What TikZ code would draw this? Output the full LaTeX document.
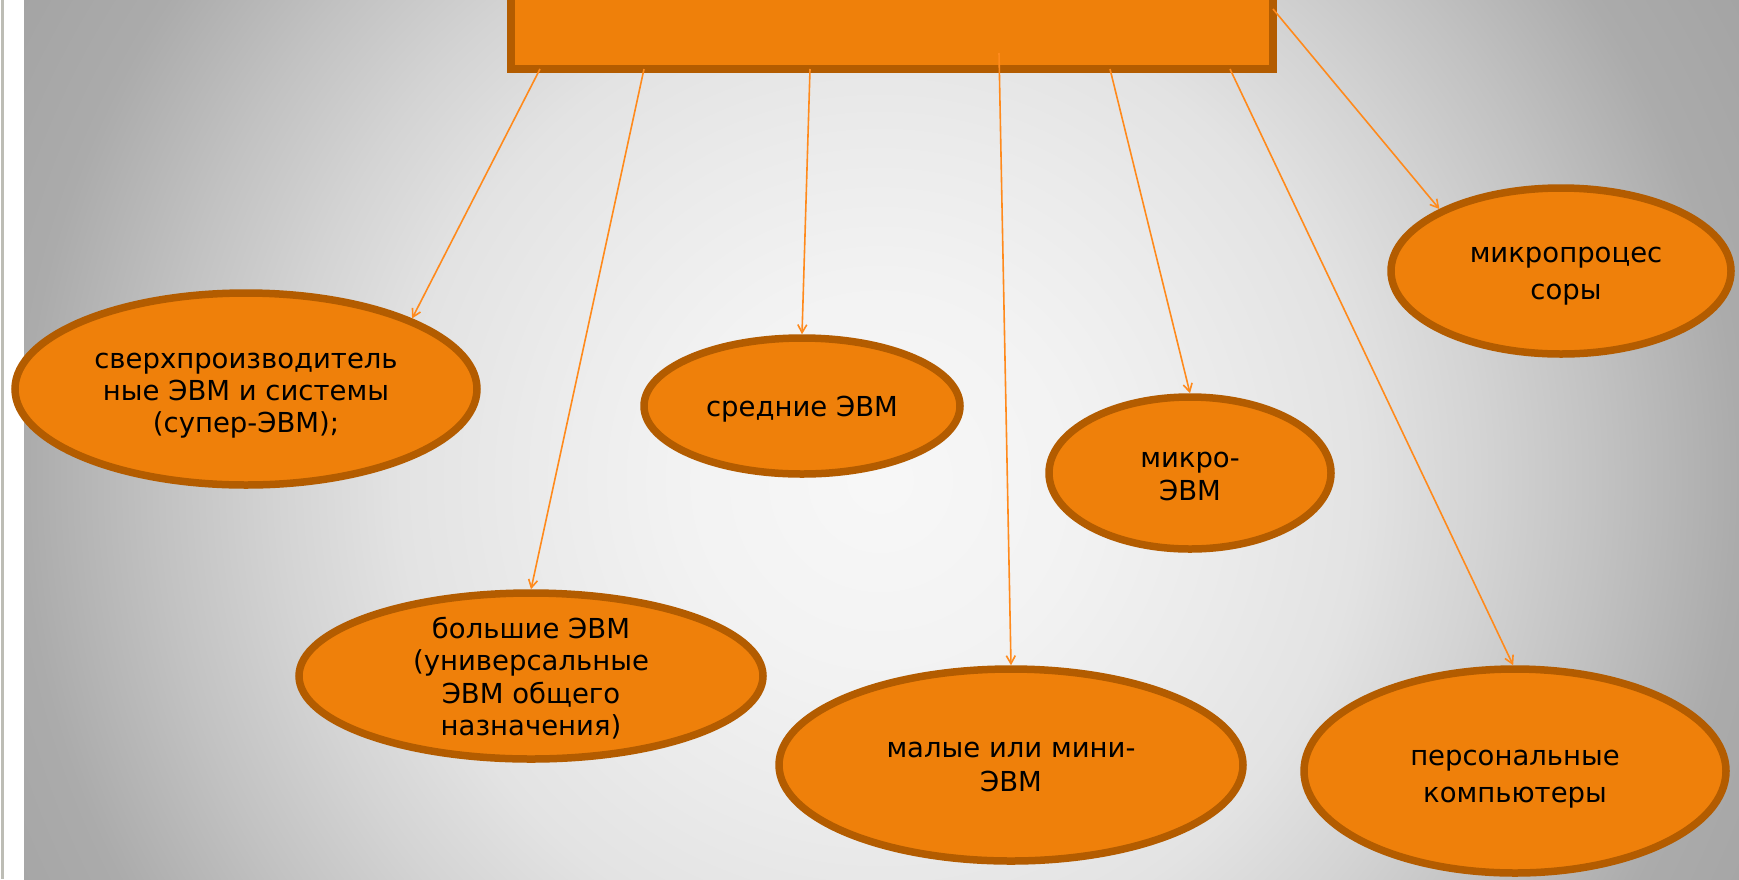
\documentclass[tikz,border=0pt]{standalone}
\usepackage{fontspec}
\setmainfont{DejaVu Sans}
\usetikzlibrary{shapes.geometric,arrows.meta}
\definecolor{bubble}{HTML}{EF800A}
\definecolor{rim}{HTML}{B35C00}
\definecolor{wire}{HTML}{FF8A1C}
\definecolor{strip}{HTML}{BDBDB5}
\pgfdeclareradialshading{bgshade}{\pgfpoint{0bp}{0bp}}{color(0bp)=(black!3); color(5bp)=(black!5); color(8.75bp)=(black!8); color(12bp)=(black!11); color(15bp)=(black!17); color(18bp)=(black!24); color(21.5bp)=(black!33); color(25bp)=(black!36); color(50bp)=(black!36)}
\tikzset{
  bub/.style={ellipse, draw=rim, fill=bubble, line width=7.5pt, inner sep=0pt},
  bubtext/.style={align=center, font=\fontsize{27.5}{#1}\selectfont, text=black, inner sep=0pt},
  bubtext/.default=32,
  headbox/.style={rectangle, draw=rim, fill=bubble, line width=8pt, inner sep=0pt},
  conn/.style={draw=wire, line width=1.6pt, -{Straight Barb[length=8pt,width=9pt]}},
}
\begin{document}
\begin{tikzpicture}[x=1pt,y=-1pt]
\path[use as bounding box] (0,0) rectangle (1739,879);
\begin{scope}
\clip (0,0) rectangle (1739,879);
\fill[white] (0,0) rectangle (24,879);
\draw[strip, line width=3pt] (2,0) -- (2,879);
\begin{scope}
\clip (24,0) rectangle (1739,879);
\shade[shading=bgshade] (880,480) circle[radius=1000];
\end{scope}

% header box
\node[headbox, minimum width=762pt, minimum height=110pt] (top) at (892,14) {};

% ellipses
\node[bub, minimum width=462pt, minimum height=192pt] (e1) at (246,389) {};
\node[bubtext] (t1) at (246,396) {сверхпроизводитель\\ные ЭВМ и системы\\(супер-ЭВМ);};
\node[bub, minimum width=464pt, minimum height=166pt] (e2) at (531,676) {};
\node[bubtext=32.5] (t2) at (531,678) {большие ЭВМ\\(универсальные\\ЭВМ общего\\назначения)};
\node[bub, minimum width=316pt, minimum height=136pt] (e3) at (802,406) {};
\node[bubtext] (t3) at (802,409) {средние ЭВМ};
\node[bub, minimum width=282pt, minimum height=152pt] (e4) at (1190,473) {};
\node[bubtext=33] (t4) at (1190,476) {микро-\\ЭВМ};
\node[bub, minimum width=340pt, minimum height=166pt] (e5) at (1561,271) {};
\node[bubtext=37] (t5) at (1566,276) {микропроцес\\соры};
\node[bub, minimum width=464pt, minimum height=192pt] (e6) at (1011,765) {};
\node[bubtext=34] (t6) at (1011,767) {малые или мини-\\ЭВМ};
\node[bub, minimum width=422pt, minimum height=204pt] (e7) at (1515,771) {};
\node[bubtext=37] (t7) at (1515,779) {персональные\\компьютеры};

% start points on the header box
\coordinate (s1) at (540,69);
\coordinate (s2) at (644,69);
\coordinate (s3) at (810,69);
\coordinate (s4) at (999,53);
\coordinate (s5) at (1110,69);
\coordinate (s6) at (1230,69);
\coordinate (s7) at (1273,9);

\draw[conn] (s1) -- (e1.23);
\draw[conn] (s2) -- (e2.90);
\draw[conn] (s3) -- (e3.90);
\draw[conn] (s4) -- (e6.90);
\draw[conn] (s5) -- (e4.90);
\draw[conn] (s6) -- (e7.91);
\draw[conn] (s7) -- (e5.153);
\end{scope}
\end{tikzpicture}
\end{document}
